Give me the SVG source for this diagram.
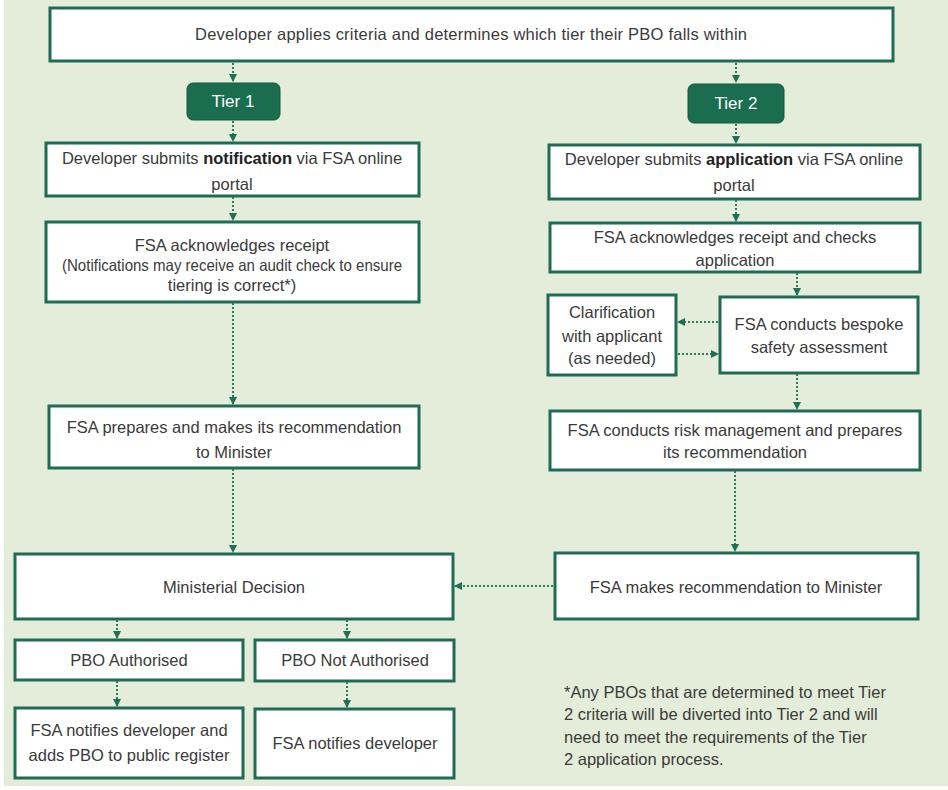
<svg xmlns="http://www.w3.org/2000/svg" width="948" height="790" viewBox="0 0 948 790">
<defs>
<marker id="ah" viewBox="0 0 8 8" refX="7" refY="4" markerWidth="4" markerHeight="4" orient="auto" markerUnits="strokeWidth">
<path d="M0,0 L8,4 L0,8 z" fill="#1f6e56"/>
</marker>
</defs>
<style>
.box{fill:#ffffff;stroke:#1f6b55;stroke-width:3}
.tier{fill:#1b6d4f;stroke:#155a40;stroke-width:1}
text{font-family:"Liberation Sans","Open Sans",Arial,sans-serif;font-size:16.5px;fill:#3a3a3a;text-anchor:middle}
.tt{fill:#ffffff;font-size:17px}
.note{text-anchor:start}
.b{font-weight:bold;fill:#222}
.c{fill:none;stroke:#2a7a5c;stroke-width:2;stroke-dasharray:2 2;marker-end:url(#ah)}
</style>
<rect x="4" y="0" width="944" height="786" fill="#e4edd9"/>

<g id="top"><rect class="box" x="50" y="8" width="843" height="53"/><text x="471" y="40" textLength="552" lengthAdjust="spacing">Developer applies criteria and determines which tier their PBO falls within</text></g>
<g id="tier1"><rect class="tier" x="187" y="83" width="93" height="37" rx="6"/><text class="tt" x="233" y="107">Tier 1</text></g>
<g id="tier2"><rect class="tier" x="688" y="84" width="96" height="39" rx="6"/><text class="tt" x="736" y="109">Tier 2</text></g>
<g id="notify"><rect class="box" x="46" y="143" width="373" height="53"/><text x="232" y="164">Developer submits <tspan class="b">notification</tspan> via FSA online</text><text x="232" y="190">portal</text></g>
<g id="apply"><rect class="box" x="549" y="145" width="371" height="54"/><text x="734" y="165">Developer submits <tspan class="b">application</tspan> via FSA online</text><text x="734" y="191">portal</text></g>
<g id="ack1"><rect class="box" x="46" y="222" width="373" height="80"/><text x="232" y="251">FSA acknowledges receipt</text><text x="232" y="271" textLength="340" lengthAdjust="spacingAndGlyphs">(Notifications may receive an audit check to ensure</text><text x="232" y="291">tiering is correct*)</text></g>
<g id="ack2"><rect class="box" x="550" y="223" width="370" height="49"/><text x="735" y="243">FSA acknowledges receipt and checks</text><text x="735" y="266">application</text></g>
<g id="clar"><rect class="box" x="548" y="295" width="128" height="80"/><text x="612" y="318">Clarification</text><text x="612" y="342">with applicant</text><text x="612" y="364">(as needed)</text></g>
<g id="bespoke"><rect class="box" x="720" y="297" width="198" height="76"/><text x="819" y="330">FSA conducts bespoke</text><text x="819" y="353">safety assessment</text></g>
<g id="prep"><rect class="box" x="49" y="406" width="370" height="62"/><text x="234" y="433">FSA prepares  and makes its recommendation</text><text x="234" y="458">to Minister</text></g>
<g id="risk"><rect class="box" x="550" y="411" width="370" height="59"/><text x="735" y="436">FSA conducts risk management and prepares</text><text x="735" y="458">its recommendation</text></g>
<g id="minister"><rect class="box" x="15" y="554" width="438" height="65"/><text x="234" y="593">Ministerial Decision</text></g>
<g id="rec"><rect class="box" x="555" y="553" width="363" height="66"/><text x="736" y="593">FSA makes recommendation  to Minister</text></g>
<g id="auth"><rect class="box" x="15" y="640" width="228" height="40"/><text x="129" y="666">PBO Authorised</text></g>
<g id="notauth"><rect class="box" x="255" y="640" width="199" height="41"/><text x="355" y="666">PBO Not Authorised</text></g>
<g id="reg"><rect class="box" x="15" y="708" width="228" height="70"/><text x="129" y="736">FSA notifies developer and</text><text x="129" y="761">adds PBO to public register</text></g>
<g id="dev"><rect class="box" x="255" y="709" width="199" height="69"/><text x="355" y="749">FSA notifies developer</text></g>
<g id="footnote"><text class="note" x="564" y="698">*Any PBOs that are determined to meet Tier</text><text class="note" x="564" y="720">2 criteria will be diverted  into Tier 2 and will</text><text class="note" x="564" y="743">need to meet the requirements of the Tier</text><text class="note" x="564" y="765">2 application process.</text></g>

<g id="connectors">
<path class="c" d="M233,63 V81"/>
<path class="c" d="M233,121 V141"/>
<path class="c" d="M233,197 V220"/>
<path class="c" d="M233,303 V404"/>
<path class="c" d="M233,469 V552"/>
<path class="c" d="M736,63 V82"/>
<path class="c" d="M736,124 V143"/>
<path class="c" d="M736,200 V221"/>
<path class="c" d="M797,273 V295"/>
<path class="c" d="M797,374 V409"/>
<path class="c" d="M735,471 V551"/>
<path class="c" d="M718,322 H678"/>
<path class="c" d="M678,354 H718"/>
<path class="c" d="M553,586 H455"/>
<path class="c" d="M117,620 V638"/>
<path class="c" d="M347,620 V638"/>
<path class="c" d="M117,681 V706"/>
<path class="c" d="M347,682 V707"/>
</g>
</svg>
